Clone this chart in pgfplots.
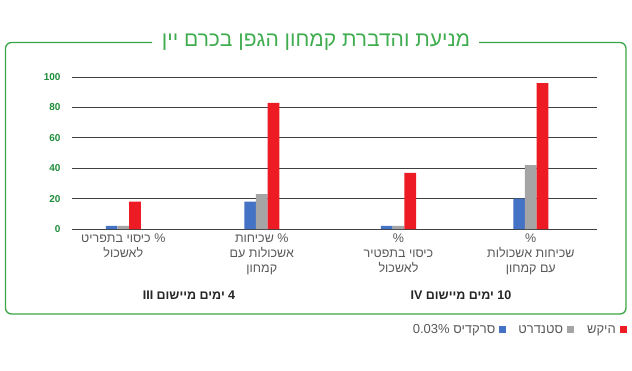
\documentclass[border=0pt]{standalone}
\usepackage{fontspec}
\setmainfont[Script=Hebrew]{Liberation Sans}
\TeXXeTstate=1
\usepackage{pgfplots}
\pgfplotsset{compat=1.18}
\definecolor{framegreen}{RGB}{58,166,72}
\definecolor{titlegreen}{RGB}{64,172,80}
\definecolor{tickgreen}{RGB}{30,140,58}
\definecolor{labgray}{RGB}{89,89,89}
\definecolor{sblue}{RGB}{68,114,196}
\definecolor{sgray}{RGB}{165,165,165}
\definecolor{sred}{RGB}{237,28,36}
\begin{document}
\begin{tikzpicture}[x=1pt,y=1pt]
\path[use as bounding box] (0,0) rectangle (632,370);
% frame
\draw[framegreen, line width=1.3pt, rounded corners=6pt]
  (152,327.5) -- (5.5,327.5) -- (5.5,56) -- (626,56) -- (626,327.5) -- (479,327.5);
\node[text=titlegreen, font=\fontsize{21}{25}\selectfont] at (316,327.5) {\beginR מניעת והדברת קמחון הגפן בכרם יין\endR};
\begin{axis}[
  at={(72pt,141pt)}, anchor=south west,
  scale only axis, width=525pt, height=152pt,
  xmin=72, xmax=597, ymin=0, ymax=100,
  ybar=0pt, bar width=11.67pt,
  axis line style={draw=none},
  major tick length=0pt,
  ytick={0,20,40,60,80,100},
  ymajorgrids, major grid style={draw=black!75, line width=0.8pt},
  /pgf/number format/assume math mode=true,
  yticklabel style={font=\bfseries\fontsize{10}{12}\selectfont, text=tickgreen, xshift=-8pt},
  xtick={123.3,261.8,398.5,530.8},
  xticklabels={
    {\beginR\% כיסוי בתפריט\endR\\\beginR לאשכול\endR},
    {\beginR\% שכיחות\endR\\\beginR אשכולות עם\endR\\\beginR קמחון\endR},
    {\%\\\beginR כיסוי בתפטיר\endR\\\beginR לאשכול\endR},
    {\%\\\beginR שכיחות אשכולות\endR\\\beginR עם קמחון\endR}},
  xticklabel style={align=center, text=labgray, font=\fontsize{12.5}{15}\selectfont, yshift=-1pt},
  legend plot pos=right,
  legend image code/.code={\fill[#1] (0pt,-3.5pt) rectangle (7pt,3.5pt);},
  legend style={at={(axis cs:627,-66.4)}, anchor=east, draw=none, fill=none, inner sep=0pt,
    legend columns=3, column sep=2pt, font=\fontsize{13}{15}\selectfont, text=labgray},
  clip=false,
]
\addplot[fill=sblue, draw=none] coordinates {(123.3,2) (261.8,18) (398.5,2) (530.8,20)};
\addplot[fill=sgray, draw=none] coordinates {(123.3,2) (261.8,23) (398.5,2) (530.8,42)};
\addplot[fill=sred, draw=none] coordinates {(123.3,18) (261.8,83) (398.5,37) (530.8,96)};
\legend{\beginR סרקדיס \beginL0.03\%\endL\endR, \hspace{8pt}\beginR סטנדרט\endR, \hspace{9pt}\beginR היקש\endR}
\end{axis}
\node[font=\bfseries\fontsize{12.5}{15}\selectfont, text=black!85] at (189,75) {\beginR\beginL4\endL{} ימים מיישום \beginL III\endL\endR};
\node[font=\bfseries\fontsize{12.5}{15}\selectfont, text=black!85] at (461,75) {\beginR\beginL10\endL{} ימים מיישום \beginL IV\endL\endR};
\end{tikzpicture}
\end{document}
